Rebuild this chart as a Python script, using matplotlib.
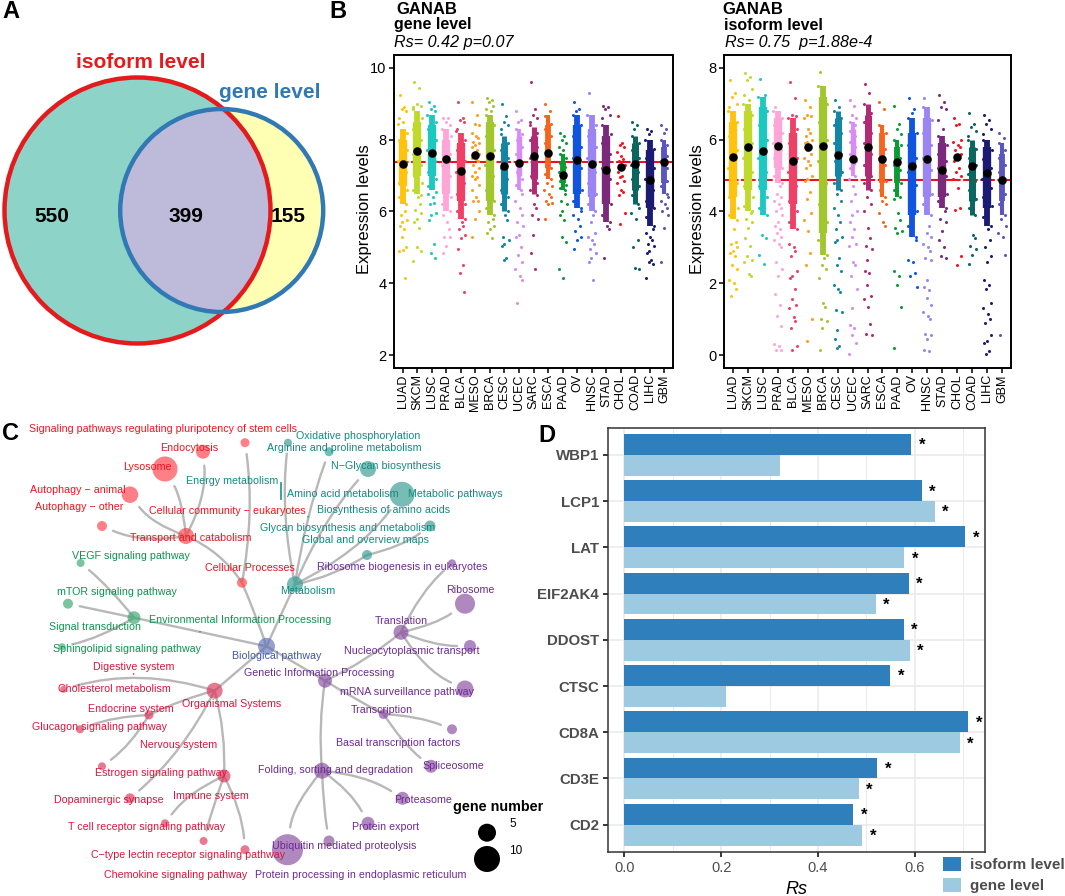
#!/usr/bin/env python3
"""Four panel figure: venn, GANAB strips, pathway tree, Rs bars."""
import matplotlib
matplotlib.use("Agg")
import matplotlib.pyplot as plt
import matplotlib.patches as mpatches
from matplotlib.path import Path as MPath
import numpy as np

W, H = 1065, 896
NAN = float("nan")

# ---- panel A ----
VENN_COUNTS = ["550", "399", "155"]

# ---- panel B ----
CANCERS = ["LUAD", "SKCM", "LUSC", "PRAD", "BLCA", "MESO", "BRCA", "CESC", "UCEC", "SARC",
           "ESCA", "PAAD", "OV", "HNSC", "STAD", "CHOL", "COAD", "LIHC", "GBM"]
CANCER_COLORS = ["#FFC20E", "#BFDA2D", "#1CC8C0", "#FFA6D8", "#EE4166", "#FF9E1B", "#A2C62D",
                 "#1585A5", "#D78BF5", "#B02B73", "#F4661F", "#0A9B35", "#0F55E0", "#9B85F5",
                 "#7B2A7B", "#F5141E", "#0B6660", "#1B1B72", "#5A55BF"]

GENE_MEAN = [7.32, 7.68, 7.62, 7.45, 7.13, 7.57, 7.55, 7.27, 7.35, 7.55,
             7.63, 7.02, 7.43, 7.33, 7.17, 7.25, 7.33, 6.87, 7.38]
GENE_CORE_LOW = [6.2, 6.5, 6.6, 6.0, 5.8, NAN, 5.9, 6.0, 6.6, 6.5,
                 6.9, 6.6, 6.1, 6.0, 5.7, NAN, 6.2, 5.6, 6.5]
GENE_CORE_HIGH = [8.3, 8.8, 8.7, 8.3, 8.2, NAN, 8.7, 8.1, 8.3, 8.35,
                  8.7, 7.6, 8.7, 8.7, 8.4, NAN, 8.1, 8.0, 8.0]
GENE_INNER_LOW = [6.7, 7.0, 7.0, 6.5, 6.3, NAN, 6.3, 6.5, 7.0, 6.9,
                  7.2, 6.8, 6.5, 6.4, 6.2, NAN, 6.6, 6.1, 6.8]
GENE_INNER_HIGH = [8.0, 8.5, 8.4, 8.0, 7.9, NAN, 8.5, 7.9, 8.1, 8.1,
                   8.4, 7.4, 8.4, 8.3, 8.1, NAN, 7.9, 7.7, 7.8]
GENE_POINTS = [
    [9.25, 8.9, 8.85, 8.8, 8.6, 8.5, 6.0, 5.9, 5.75, 5.7, 5.6, 5.5, 5.3, 5.0, 4.9, 4.92, 4.15],
    [9.6, 9.45, 9.0, 8.95, 8.9, 6.4, 6.2, 6.05, 5.95, 5.8, 5.7, 5.55, 5.0, 4.9, 4.62],
    [9.05, 8.95, 8.85, 8.8, 6.5, 6.4, 6.25, 6.2, 5.95, 5.9, 5.75, 5.1, 4.85, 4.7],
    [8.6, 8.6, 8.5, 8.4, 5.9, 5.7, 5.5, 5.3, 5.3, 5.05, 4.85],
    [9.05, 8.6, 8.55, 8.5, 8.3, 5.7, 5.6, 5.5, 5.35, 5.25, 4.95, 4.5, 4.3, 3.75],
    [9.05, 8.7, 8.45, 8.4, 8.2, 8.1, 8.05, 7.95, 7.9, 7.85, 7.8, 7.7, 7.65, 7.6, 7.5, 7.45,
     7.4, 7.3, 7.2, 7.1, 7.0, 6.95, 6.9, 6.75, 6.6, 6.4, 6.3, 6.3, 6.0, 5.8, 5.3],
    [9.15, 9.1, 9.05, 8.95, 8.85, 8.8, 5.8, 5.7, 5.6, 5.5, 5.4, 5.25],
    [9.0, 8.65, 8.5, 8.4, 8.3, 5.9, 5.75, 5.3, 5.2, 5.1, 5.05, 4.7, 4.65],
    [8.8, 8.55, 8.5, 6.5, 6.3, 6.1, 5.9, 5.7, 5.6, 5.35, 5.3, 5.0, 4.8, 4.6, 4.4, 4.2, 4.1, 3.45],
    [9.6, 8.85, 8.7, 8.6, 8.5, 6.2, 6.1, 5.9, 5.8, 5.35, 4.85, 4.4],
    [9.0, 8.8, 6.8, 6.7, 6.6, 6.5, 6.4, 6.3, 6.25, 6.2, 5.8],
    [8.2, 8.1, 8.0, 7.9, 7.8, 7.7, 6.5, 6.3, 6.2, 6.0, 5.9, 5.75, 5.3, 5.15, 4.4, 4.15],
    [9.05, 8.85, 8.8, 6.0, 5.9, 5.8, 5.6, 5.45, 5.3, 5.2, 4.95],
    [9.3, 5.9, 5.7, 5.4, 5.3, 5.2, 5.1, 4.95, 4.85, 4.7, 4.6, 4.1],
    [8.95, 8.9, 8.85, 8.7, 8.6, 5.6, 5.5, 4.7],
    [8.65, 7.9, 7.85, 7.8, 7.65, 7.55, 7.45, 7.4, 7.3, 7.25, 7.1, 7.0, 6.95, 6.85, 6.8, 6.6,
     6.55, 6.45, 5.95, 5.65],
    [8.5, 8.4, 8.3, 6.1, 5.95, 5.8, 5.2, 5.0, 4.4, 4.42],
    [8.3, 8.25, 8.15, 5.5, 5.4, 5.3, 5.2, 5.1, 5.05, 4.9, 4.85, 4.65, 4.6, 4.55, 4.15],
    [8.4, 8.3, 8.2, 6.4, 6.3, 6.2, 6.1, 6.0, 5.9, 5.55, 4.6],
]
# points along the sides of the dense part of each strip
GENE_FRINGE = [
    [8.45, 8.2, 8.0, 7.7, 7.4, 7.1, 6.8, 6.6, 6.4, 6.2],
    [8.85, 8.6, 8.3, 8.0, 7.6, 7.3, 7.0, 6.8, 6.6, 6.45],
    [8.7, 8.5, 8.3, 8.0, 7.7, 7.4, 7.1, 6.9, 6.7, 6.55],
    [8.3, 8.1, 7.9, 7.6, 7.3, 7.0, 6.7, 6.4, 6.2, 6.0],
    [8.25, 8.0, 7.7, 7.4, 7.1, 6.8, 6.5, 6.2, 6.0, 5.8],
    [],
    [8.7, 8.4, 8.1, 7.7, 7.3, 7.0, 6.6, 6.3, 6.1, 5.9],
    [8.15, 7.9, 7.7, 7.5, 7.2, 6.9, 6.6, 6.4, 6.2, 6.0],
    [8.3, 8.15, 8.0, 7.8, 7.6, 7.3, 7.1, 6.9, 6.75, 6.6],
    [8.4, 8.2, 8.0, 7.8, 7.5, 7.2, 7.0, 6.8, 6.6, 6.45],
    [8.65, 8.45, 8.3, 8.1, 7.9, 7.6, 7.4, 7.2, 7.05, 6.9],
    [7.6, 7.5, 7.35, 7.25, 7.1, 6.95, 6.85, 6.75, 6.65, 6.6],
    [8.7, 8.4, 8.1, 7.8, 7.5, 7.2, 6.9, 6.6, 6.3, 6.1],
    [8.7, 8.4, 8.1, 7.8, 7.5, 7.1, 6.8, 6.5, 6.2, 6.0],
    [8.4, 8.15, 7.9, 7.6, 7.2, 6.9, 6.5, 6.2, 5.9, 5.7],
    [],
    [8.1, 7.9, 7.7, 7.5, 7.3, 7.1, 6.9, 6.7, 6.45, 6.2],
    [8.0, 7.75, 7.5, 7.2, 6.9, 6.6, 6.3, 6.1, 5.85, 5.6],
    [8.0, 7.85, 7.7, 7.55, 7.4, 7.2, 7.05, 6.85, 6.7, 6.5],
]

ISO_MEAN = [5.53, 5.8, 5.68, 5.82, 5.42, 5.8, 5.82, 5.58, 5.47, 5.8,
            5.47, 5.37, 5.27, 5.47, 5.17, 5.52, 5.27, 5.08, 4.87]
ISO_CORE_LOW = [3.8, 4.0, 3.9, 4.8, 3.5, NAN, 2.8, 4.6, 5.0, 4.6,
                4.4, 4.4, 3.3, 3.9, 4.1, NAN, 3.9, 3.6, 3.9]
ISO_CORE_HIGH = [6.8, 7.0, 7.2, 6.8, 6.6, NAN, 7.5, 6.8, 6.5, 7.0,
                 6.4, 6.0, 6.6, 6.9, 6.1, NAN, 6.0, 6.0, 5.9]
ISO_INNER_LOW = [4.4, 4.6, 4.6, 5.2, 4.2, NAN, 3.4, 5.0, 5.3, 5.0,
                 4.8, 4.8, 3.9, 4.4, 4.4, NAN, 4.3, 4.1, 4.3]
ISO_INNER_HIGH = [6.5, 6.8, 6.9, 6.6, 6.2, NAN, 7.2, 6.6, 6.3, 6.7,
                  6.2, 5.8, 6.2, 6.6, 5.9, NAN, 5.8, 5.8, 5.6]
ISO_POINTS = [
    [7.65, 7.3, 7.2, 7.0, 6.9, 3.5, 3.15, 3.1, 3.0, 2.9, 2.85, 2.75, 2.5, 2.4, 2.1, 2.0, 1.85, 1.65],
    [7.85, 7.75, 7.65, 7.4, 7.25, 7.1, 3.95, 3.8, 3.7, 3.55, 3.25, 3.05, 2.75, 2.65, 2.6, 2.25, 2.2],
    [7.7, 7.25, 3.35, 3.25, 2.8, 2.55],
    [6.9, 4.7, 4.5, 4.4, 4.3, 4.2, 4.1, 4.0, 3.9, 3.7, 3.6, 3.5, 3.4, 3.3, 3.2, 3.1, 3.0, 2.6,
     2.4, 2.2, 1.7, 1.4, 1.1, 0.8, 0.3, 0.25, 0.15, 0.15],
    [7.6, 7.15, 6.7, 6.65, 3.1, 3.0, 2.9, 2.75, 2.35, 2.2, 2.15, 1.85, 1.55, 1.4, 1.3, 1.05,
     0.95, 0.75, 0.25, 0.15],
    [7.1, 6.9, 6.7, 6.65, 6.6, 6.3, 6.2, 6.1, 6.0, 5.95, 5.9, 5.8, 5.7, 5.6, 5.5, 5.4, 5.3, 5.2,
     5.0, 4.9, 4.85, 4.55, 4.35, 3.95, 3.75, 3.45, 2.85, 2.5, 1.0, 0.38],
    [7.9, 2.7, 2.5, 2.4, 2.15, 1.45, 1.35, 1.0, 0.95, 0.75, 0.15],
    [7.1, 6.9, 4.5, 4.3, 4.1, 3.9, 3.7, 3.5, 3.3, 3.2, 3.15, 2.7, 2.5, 2.35, 1.95, 1.85, 1.75,
     1.25, 1.2, 0.7, 0.45, 0.25, 0.2],
    [7.1, 6.95, 6.7, 6.6, 4.9, 4.7, 4.5, 4.3, 4.0, 3.9, 3.7, 3.5, 3.3, 3.1, 3.05, 2.6, 2.5, 2.2,
     1.85, 1.3, 0.85, 0.75, 0.55, 0.35, 0.02],
    [7.55, 7.3, 4.4, 4.2, 4.0, 3.55, 3.25, 3.05, 2.95, 2.65, 2.35, 2.3, 1.95, 1.65, 1.55, 1.35,
     0.87, 0.6, 0.55],
    [7.05, 6.85, 4.3, 4.2, 3.95, 3.7, 3.6],
    [6.95, 6.45, 6.3, 6.15, 4.35, 3.95, 3.75, 3.55, 3.45, 3.4, 2.35, 2.2, 1.95, 1.35, 0.2],
    [7.15, 6.85, 6.75, 3.2, 2.65, 2.6, 2.3, 2.2, 1.9],
    [7.15, 3.6, 3.4, 3.3, 3.1, 3.0, 2.9, 2.7, 2.65, 2.1, 1.9, 1.8, 1.6, 1.4, 1.2, 1.1, 1.0, 0.6,
     0.55, 0.45, 0.15, 0.1],
    [7.25, 7.05, 6.9, 6.85, 6.55, 6.3, 4.0, 3.8, 3.7, 3.45, 3.2, 3.0, 2.75, 2.7],
    [6.6, 6.45, 6.4, 6.0, 5.95, 5.85, 5.8, 5.7, 5.6, 5.5, 5.4, 5.2, 5.1, 5.0, 4.9, 4.65, 4.1,
     4.05, 2.75, 2.5],
    [6.75, 6.45, 6.35, 6.25, 6.1, 3.35, 3.25, 3.05, 2.95, 2.8, 2.55],
    [6.7, 6.55, 6.45, 6.3, 6.15, 3.5, 3.2, 3.0, 2.75, 2.6, 2.1, 1.95, 1.85, 1.45, 1.3, 1.15, 1.0,
     0.9, 0.55, 0.4, 0.35, 0.1, 0.03],
    [6.2, 6.05, 3.8, 3.6, 3.4, 3.3, 2.8, 0.55],
]
ISO_FRINGE = [
    [6.8, 6.5, 6.1, 5.7, 5.2, 4.8, 4.4, 4.1, 3.9, 3.75],
    [7.0, 6.7, 6.3, 5.9, 5.5, 5.1, 4.7, 4.4, 4.15, 4.0],
    [7.2, 6.8, 6.4, 6.0, 5.5, 5.1, 4.7, 4.4, 4.1, 3.9],
    [6.8, 6.6, 6.4, 6.2, 5.9, 5.7, 5.5, 5.2, 5.0, 4.8],
    [6.6, 6.3, 5.9, 5.5, 5.1, 4.7, 4.3, 4.0, 3.7, 3.5],
    [],
    [7.5, 7.0, 6.5, 6.0, 5.4, 4.8, 4.2, 3.7, 3.2, 2.8],
    [6.8, 6.6, 6.4, 6.2, 5.9, 5.6, 5.4, 5.1, 4.8, 4.6],
    [6.5, 6.4, 6.25, 6.1, 5.95, 5.8, 5.6, 5.4, 5.2, 5.0],
    [7.0, 6.75, 6.5, 6.2, 5.9, 5.6, 5.3, 5.0, 4.8, 4.6],
    [6.4, 6.2, 6.0, 5.75, 5.5, 5.3, 5.1, 4.85, 4.6, 4.4],
    [6.0, 5.85, 5.7, 5.5, 5.3, 5.15, 5.0, 4.8, 4.6, 4.4],
    [6.6, 6.2, 5.85, 5.5, 5.1, 4.75, 4.4, 4.0, 3.6, 3.3],
    [6.9, 6.55, 6.2, 5.85, 5.5, 5.15, 4.8, 4.5, 4.2, 3.9],
    [6.1, 5.85, 5.6, 5.4, 5.2, 5.0, 4.75, 4.5, 4.3, 4.1],
    [],
    [6.0, 5.75, 5.5, 5.3, 5.05, 4.85, 4.6, 4.35, 4.1, 3.9],
    [6.0, 5.7, 5.45, 5.2, 4.9, 4.65, 4.4, 4.15, 3.85, 3.6],
    [5.9, 5.7, 5.5, 5.3, 5.1, 4.9, 4.7, 4.5, 4.2, 3.9],
]
GENE_MEDIAN = 7.37
ISO_MEDIAN = 4.87

NODE_NAMES = ["bio", "cell", "transport", "plurip", "endo", "lyso", "auto_a", "auto_o",
              "metab", "oxid", "argi", "nglyc", "metpw", "global", "glycan",
              "env", "vegf", "mtor", "sphingo",
              "org", "chol", "endocr", "glucagon", "estrogen", "dopa", "immune", "tcell", "ctype", "chemo",
              "genetic", "transl", "ribobio", "ribosome", "nucleo", "mrna", "transc", "basal", "splice",
              "fold", "proteas", "pexport", "ubiq", "pproc"]
NODE_X = [266.5, 242, 186, 245, 203, 165, 130, 102,
          295, 288, 329, 368, 402, 367, 430,
          134, 80.6, 68, 62,
          214.6, 63.6, 149, 80, 102, 130, 224, 165, 203.6, 245,
          325, 401, 452, 465, 470, 465, 383.6, 452, 431,
          322, 402.5, 368, 329, 287.5]
NODE_Y = [646.3, 582.7, 536, 442.7, 451.7, 469, 494.7, 526,
          584.3, 442.7, 451.7, 469, 494.3, 555, 526,
          617.7, 563, 603.7, 646.7,
          690.7, 689.3, 715, 729.3, 766.3, 798.3, 776, 823.3, 841, 849.7,
          680.7, 632.3, 563.3, 603.7, 646, 689, 714, 729.3, 766.3,
          770.7, 798.3, 823.3, 841, 849.7]
NODE_D = [17, 10, 16, 9, 14, 25, 16.5, 10,
          16, 8, 9, 16, 25, 10, 11,
          13, 8, 10, 7,
          16, 7, 9, 8, 8, 10, 13, 8, 8, 9,
          14, 15, 8, 20, 12, 17, 10, 10, 13,
          16, 13, 13, 11, 31]
NODE_GROUP = ["b"] + ["r"] * 7 + ["t"] * 7 + ["g"] * 4 + ["c"] * 10 + ["p"] * 14

EDGE_PARENT = ["bio", "bio", "bio", "bio", "bio",
               "cell", "cell", "transport", "transport", "transport", "transport",
               "metab", "metab", "metab", "metab", "metab", "global",
               "env", "env", "env",
               "org", "org", "org", "org", "endocr", "endocr", "immune", "immune", "immune",
               "genetic", "genetic", "genetic", "transl", "transl", "transl", "transl",
               "transc", "transc", "fold", "fold", "fold", "fold"]
EDGE_CHILD = ["cell", "metab", "env", "org", "genetic",
              "transport", "plurip", "lyso", "endo", "auto_a", "auto_o",
              "oxid", "argi", "nglyc", "metpw", "global", "glycan",
              "vegf", "mtor", "sphingo",
              "chol", "endocr", "dopa", "immune", "glucagon", "estrogen", "tcell", "ctype", "chemo",
              "transl", "transc", "fold", "ribobio", "ribosome", "nucleo", "mrna",
              "basal", "splice", "proteas", "pexport", "ubiq", "pproc"]
EDGE_BEND = [0.02, 0, 0, 0, 0,
             0.15, 0.08, 0.1, 0.15, -0.15, -0.15,
             -0.08, -0.05, -0.08, 0.12, 0.1, 0.1,
             0.05, 0, -0.08,
             0.15, 0.05, -0.1, -0.08, 0.08, -0.1, 0.13, 0.02, -0.1,
             0.07, 0.02, 0.06, -0.1, 0.1, 0.1, 0.15,
             -0.08, 0.08, -0.12, -0.12, 0.03, 0.15]

LABEL_TEXT = ["Signaling pathways regulating pluripotency of stem cells", "Endocytosis", "Lysosome",
              "Autophagy \u2212 animal", "Autophagy \u2212 other", "Cellular community \u2212 eukaryotes",
              "Transport and catabolism", "Cellular Processes",
              "Oxidative phosphorylation", "Arginine and proline metabolism", "N\u2212Glycan biosynthesis",
              "Energy metabolism", "Amino acid metabolism", "Metabolic pathways",
              "Biosynthesis of amino acids", "Glycan biosynthesis and metabolism",
              "Global and overview maps", "Metabolism",
              "VEGF signaling pathway", "mTOR signaling pathway", "Environmental Information Processing",
              "Signal transduction", "Sphingolipid signaling pathway",
              "Biological pathway",
              "Digestive system", "Cholesterol metabolism", "Organismal Systems", "Endocrine system",
              "Glucagon signaling pathway", "Nervous system", "Estrogen signaling pathway",
              "Dopaminergic synapse", "Immune system", "T cell receptor signaling pathway",
              "C\u2212type lectin receptor signaling pathway", "Chemokine signaling pathway",
              "Ribosome biogenesis in eukaryotes", "Ribosome", "Translation", "Nucleocytoplasmic transport",
              "Genetic Information Processing", "mRNA surveillance pathway", "Transcription",
              "Basal transcription factors", "Spliceosome", "Folding, sorting and degradation",
              "Proteasome", "Protein export", "Ubiquitin mediated proteolysis",
              "Protein processing in endoplasmic reticulum"]
LABEL_X = [163, 189, 147, 78, 79, 227, 191, 250,
           358.5, 344, 386, 232.4, 343, 455, 383.6, 348, 366, 308,
           131, 117.4, 240, 95, 126.7, 276.5,
           134, 114, 232, 131, 100, 179, 161, 109, 211, 147, 188, 176,
           402, 470, 401, 411.5, 319, 407, 382, 398, 453, 336, 423, 386, 344, 361]
LABEL_Y = [429.3, 447.7, 466.7, 489.7, 507.3, 511, 538, 568,
           436, 448, 466.3, 481.3, 493.7, 493.7, 510.3, 528.3, 540, 590.7,
           555.7, 591.7, 620.3, 627, 649.3, 656,
           666.7, 689, 704.3, 709, 726.7, 745.3, 773.3, 800, 796.3, 827, 855, 875.3,
           567, 590.3, 621, 651.3, 673, 692, 709.7, 743.3, 765.7, 770.3, 799.7, 827, 845.7, 875.3]
LABEL_GROUP = ["r"] * 8 + ["t"] * 10 + ["g"] * 5 + ["b"] + ["c"] * 12 + ["p"] * 14

TEXT_COLOR = {"r": "#F0141E", "t": "#128A80", "g": "#0E9350", "c": "#D9163C", "p": "#6B2A92", "b": "#4557A8"}
NODE_COLOR = {"r": "#FF3B45", "t": "#2E9A90", "g": "#35A56C", "c": "#DB3257", "p": "#85489F", "b": "#5E6FB5"}

LEGEND_SIZES = [5, 10]

# ---- panel D ----
GENES = ["CD2", "CD3E", "CD8A", "CTSC", "DDOST", "EIF2AK4", "LAT", "LCP1", "WBP1"]
RS_ISOFORM = [0.473, 0.522, 0.710, 0.549, 0.577, 0.587, 0.704, 0.614, 0.593]
RS_GENE = [0.491, 0.484, 0.693, 0.210, 0.589, 0.519, 0.578, 0.641, 0.322]
SIG_ISOFORM = [True, True, True, True, True, True, True, True, True]
SIG_GENE = [True, True, True, False, True, True, True, True, False]

# fixed sideways spread of the strip points, in category units
SPREAD = [-0.2, 0.12, -0.05, 0.24, -0.26, 0.05, 0.18, -0.13, 0.28, -0.02]
SIDES = [-0.3, 0.3, -0.26, 0.27, -0.31, 0.24, -0.24, 0.31, -0.28, 0.26]
# strips with fewer samples stay thinner
CORE_SCALE = [1, 1, 1, 1, 1, 1, 1, 0.85, 0.65, 0.85, 0.7, 0.7, 1, 1, 1, 1, 0.85, 1, 0.7]


def px_axes(fig, left, top, right, bottom, **kw):
    return fig.add_axes([left / W, 1 - bottom / H, (right - left) / W, (bottom - top) / H], **kw)


def fig_text(fig, x, y, s, **kw):
    kw.setdefault("ha", "left")
    kw.setdefault("va", "center")
    fig.text(x / W, 1 - y / H, s, **kw)


def draw_venn(ax):
    iso = (137.5, 210.5, 133)
    gene = (221.7, 210.5, 101.5)
    ax.add_patch(mpatches.Circle(iso[:2], iso[2], fc="#8DD3C7", ec="none", zorder=1))
    ax.add_patch(mpatches.Circle(gene[:2], gene[2], fc="#FFFFB3", ec="none", zorder=1))
    over = mpatches.Circle(gene[:2], gene[2], fc="#BEBADA", ec="none", zorder=2)
    ax.add_patch(over)
    over.set_clip_path(mpatches.Circle(iso[:2], iso[2], transform=ax.transData))
    ax.add_patch(mpatches.Circle(iso[:2], iso[2], fc="none", ec="#E41A1C", lw=3.2, zorder=3))
    ax.add_patch(mpatches.Circle(gene[:2], gene[2], fc="none", ec="#3079B5", lw=3.2, zorder=4))
    for x, s in zip([52, 186, 288], VENN_COUNTS):
        ax.text(x, 216, s, ha="center", va="center", fontsize=15, fontweight="bold", zorder=5)
    ax.text(141, 62, "isoform level", color="#E41A1C", ha="center", va="center",
            fontsize=15, fontweight="bold", zorder=5)
    ax.text(270, 92, "gene level", color="#3079B5", ha="center", va="center",
            fontsize=15, fontweight="bold", zorder=5)


def draw_strips(ax, means, low, high, inner_low, inner_high, points, fringe, median, ylim, yticks, ylab_x):
    xs = np.arange(1, len(CANCERS) + 1)
    scale = np.array(CORE_SCALE)
    ax.axhline(median, color="#F00F1E", lw=1.5, ls=(0, (7, 1.2)), zorder=1)
    ax.vlines(xs, low, high, colors=CANCER_COLORS, lw=4.2 * scale, zorder=2)
    ax.vlines(xs, inner_low, inner_high, colors=CANCER_COLORS, lw=6.0 * scale, zorder=2)
    for x, vals, side, color, sc in zip(xs, points, fringe, CANCER_COLORS, scale):
        off = [SPREAD[i % len(SPREAD)] for i in range(len(vals))]
        ax.scatter(x + np.array(off), vals, s=4.8, color=color, lw=0, zorder=3)
        off = [SIDES[i % len(SIDES)] * sc for i in range(len(side))]
        ax.scatter(x + np.array(off), side, s=4.8, color=color, lw=0, zorder=3)
    ax.scatter(xs, means, s=38, color="black", lw=0, zorder=4)
    ax.set_xlim(0.4, 19.6)
    ax.set_ylim(*ylim)
    ax.set_yticks(yticks)
    ax.set_xticks(xs)
    ax.set_xticklabels(CANCERS, rotation=90, fontsize=9)
    ax.tick_params(axis="y", labelsize=10.5, length=3.5, width=1.1, pad=2)
    ax.tick_params(axis="x", length=3.5, width=1.1, pad=1)
    for sp in ax.spines.values():
        sp.set_linewidth(1.4)
    ax.set_ylabel("Expression levels", fontsize=12)
    # label place given in figure pixels
    ax.yaxis.set_label_coords(ylab_x / W, 1 - 209 / H, transform=ax.figure.transFigure)


def draw_tree(ax):
    nodes = {n: (x, y, d) for n, x, y, d in zip(NODE_NAMES, NODE_X, NODE_Y, NODE_D)}
    parents = set(EDGE_PARENT)
    for par, child, bend in zip(EDGE_PARENT, EDGE_CHILD, EDGE_BEND):
        x0, y0, _ = nodes[par]
        x1, y1, d1 = nodes[child]
        dx, dy = x1 - x0, y1 - y0
        cx, cy = (x0 + x1) / 2 - dy * bend, (y0 + y1) / 2 + dx * bend
        if child not in parents:
            # leaf branches stop short of their node
            gap = (d1 / 2 + 7) / np.hypot(x1 - cx, y1 - cy)
            x1, y1 = x1 + (cx - x1) * gap, y1 + (cy - y1) * gap
        path = MPath([(x0, y0), (cx, cy), (x1, y1)], [MPath.MOVETO, MPath.CURVE3, MPath.CURVE3])
        ax.add_patch(mpatches.PathPatch(path, fc="none", ec="#B8B8B8", lw=1.7, capstyle="round", zorder=1))
    sizes = [(d * 0.72) ** 2 for d in NODE_D]
    colors = [NODE_COLOR[g] for g in NODE_GROUP]
    ax.scatter(NODE_X, NODE_Y, s=sizes, c=colors, alpha=0.65, lw=0, zorder=2)
    # the stray nodes with hardly any size
    ax.plot([281, 281], [482.7, 499.3], color=NODE_COLOR["t"], lw=1.3, zorder=2)
    ax.scatter([308, 200, 133.6], [516.7, 631.7, 674], s=1.5,
               c=[NODE_COLOR["t"], NODE_COLOR["g"], NODE_COLOR["c"]], lw=0, zorder=2)
    for s, x, y, g in zip(LABEL_TEXT, LABEL_X, LABEL_Y, LABEL_GROUP):
        ax.text(x, y, s, color=TEXT_COLOR[g], fontsize=7.65, ha="center", va="center", zorder=3)
    ax.text(498, 807.5, "gene number", fontsize=10.4, fontweight="bold", ha="center", va="center")
    ax.scatter([487, 487], [832.7, 859], s=[(18 * 0.72) ** 2, (26 * 0.72) ** 2], color="black", lw=0)
    ax.text(513, 824, str(LEGEND_SIZES[0]), fontsize=8.5, ha="center", va="center")
    ax.text(516, 851, str(LEGEND_SIZES[1]), fontsize=8.5, ha="center", va="center")


def draw_bars(fig, ax):
    ys = np.arange(1, len(GENES) + 1)
    ax.set_axisbelow(True)
    ax.set_xticks(np.arange(0.1, 0.8, 0.2), minor=True)
    ax.grid(True, which="major", color="#EBEBEB", lw=1.2)
    ax.grid(True, which="minor", axis="x", color="#EBEBEB", lw=0.7)
    iso = ax.barh(ys + 0.225, RS_ISOFORM, height=0.45, color="#2F7FBC", label="isoform level")
    gene = ax.barh(ys - 0.225, RS_GENE, height=0.45, color="#9ECAE1", label="gene level")
    for y, v, on in zip(ys, RS_ISOFORM, SIG_ISOFORM):
        if on:
            ax.text(v + 0.022, y + 0.2, "*", ha="center", va="center", fontsize=12, fontweight="bold")
    for y, v, on in zip(ys, RS_GENE, SIG_GENE):
        if on:
            ax.text(v + 0.022, y - 0.25, "*", ha="center", va="center", fontsize=12, fontweight="bold")
    ax.set_xlim(-0.034, 0.745)
    ax.set_ylim(0.41, 9.58)
    ax.set_xticks([0.0, 0.2, 0.4, 0.6])
    ax.set_yticks(ys)
    ax.set_yticklabels(GENES, fontsize=10.8, fontweight="bold", color="#4D4D4D")
    ax.tick_params(axis="x", labelsize=10.5, labelcolor="#4D4D4D", length=3.5, width=1.1, pad=3)
    ax.tick_params(axis="y", length=3.5, width=1.1, pad=3)
    ax.tick_params(axis="x", which="minor", length=0)
    for sp in ax.spines.values():
        sp.set_linewidth(1.1)
        sp.set_color("#333333")
    ax.set_xlabel("Rs", fontsize=13, fontstyle="italic", labelpad=4)
    fig.legend(handles=[iso, gene], loc="upper left", bbox_to_anchor=(943 / W, 1 - 857 / H),
               frameon=False, borderpad=0, borderaxespad=0, handlelength=1.2, handleheight=1.0,
               labelspacing=0.4, handletextpad=0.55,
               prop={"size": 11, "weight": "bold"}, labelcolor="#4D4D4D")


def main():
    plt.rcParams["font.family"] = ["Liberation Sans", "DejaVu Sans"]
    fig = plt.figure(figsize=(W / 100, H / 100), dpi=100, facecolor="white")

    # whole-figure axes in pixel units for the venn and the tree
    canvas = fig.add_axes([0, 0, 1, 1], zorder=0)
    canvas.set_xlim(0, W)
    canvas.set_ylim(H, 0)
    canvas.axis("off")
    draw_venn(canvas)
    draw_tree(canvas)

    ax1 = px_axes(fig, 394, 55, 673, 368)
    draw_strips(ax1, GENE_MEAN, GENE_CORE_LOW, GENE_CORE_HIGH, GENE_INNER_LOW, GENE_INNER_HIGH,
                GENE_POINTS, GENE_FRINGE, GENE_MEDIAN, (1.64, 10.36), [2, 4, 6, 8, 10], 372)
    ax2 = px_axes(fig, 724, 55, 1011, 368)
    draw_strips(ax2, ISO_MEAN, ISO_CORE_LOW, ISO_CORE_HIGH, ISO_INNER_LOW, ISO_INNER_HIGH,
                ISO_POINTS, ISO_FRINGE, ISO_MEDIAN, (-0.36, 8.36), [0, 2, 4, 6, 8], 705)

    ax3 = px_axes(fig, 608, 428, 985, 852)
    draw_bars(fig, ax3)

    # panel letters and strip titles
    for x, y, s in [(2, 12, "A"), (329, 12, "B"), (2, 433, "C"), (538, 435, "D")]:
        fig_text(fig, x, y, s, fontsize=17, fontweight="bold")
    fig_text(fig, 396, 10, "GANAB", fontsize=12, fontweight="bold")
    fig_text(fig, 394, 24, "gene level", fontsize=11.5, fontweight="bold")
    fig_text(fig, 394, 42, "Rs= 0.42 p=0.07", fontsize=11.6, fontstyle="italic")
    fig_text(fig, 722, 10, "GANAB", fontsize=12, fontweight="bold")
    fig_text(fig, 724, 26, "isoform level", fontsize=11.5, fontweight="bold")
    fig_text(fig, 725, 42, "Rs= 0.75  p=1.88e-4", fontsize=11.6, fontstyle="italic")

    fig.savefig("out.png", dpi=100, facecolor="white")
    plt.close(fig)


if __name__ == "__main__":
    main()
